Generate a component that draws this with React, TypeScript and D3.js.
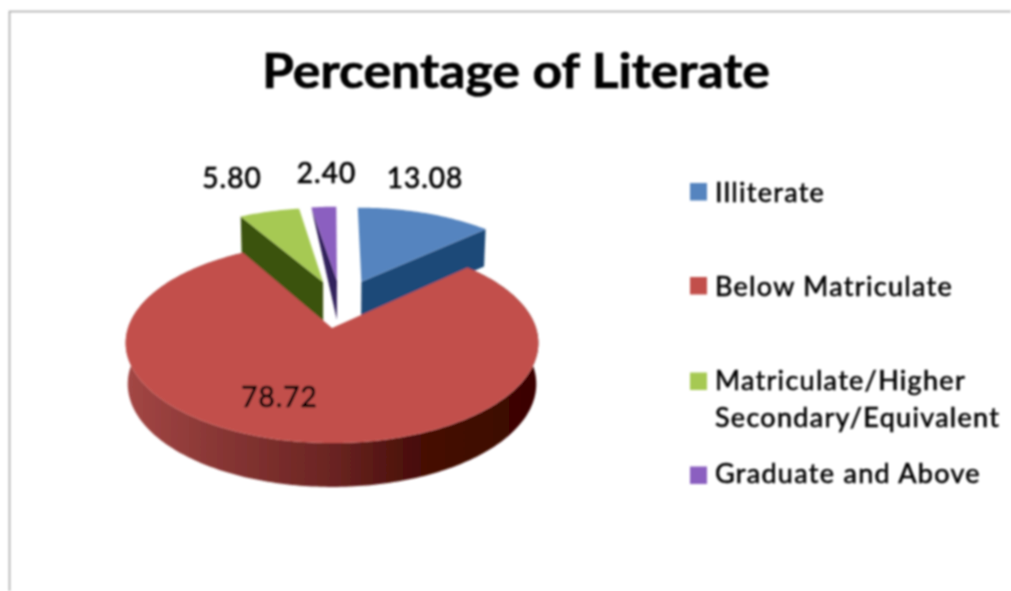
import React from "react";
import * as d3 from "d3";

const title = "Percentage of Literate";
const categories = ["Illiterate", "Below Matriculate", "Matriculate/Higher Secondary/Equivalent", "Graduate and Above"];
const values = [13.08, 78.72, 5.8, 2.4];
const valueLabels = ["13.08", "78.72", "5.80", "2.40"];
const legendLines = [["Illiterate"], ["Below Matriculate"], ["Matriculate/Higher", "Secondary/Equivalent"], ["Graduate and Above"]];

const topColors = ["#5484bf", "#c2504c", "#a6c952", "#8b5fc0"];
const sideColors = ["#1f4a78", "#8a3836", "#3a5208", "#33205c"];
const explode: [number, number][] = [[0.155, 0.51], [0, 0], [-0.047, 0.506], [0.026, 0.525]];
const labelPos: [number, number][] = [[425, 188], [279.5, 407], [232, 188], [326.5, 183]];
const legendY = [192, 286, 381.5, 475.5];
const lineBase = [[202], [296], [390, 427], [483]];

const W = 1011, H = 591;
const cx = 332, y0 = 328, RX = 204, RY = 97.75, PERSP = 0.15, DEPTH = 40.5, SHRINK = 0.99;

type P = [number, number];
const project = (X: number, Z: number, bottom = false): P => {
  const w = 1 + PERSP * Z;
  const x = RX * X / w;
  const y = y0 - RY * Z / w;
  return bottom ? [cx + x * SHRINK, y + DEPTH / Math.sqrt(w)] : [cx + x, y];
};

const pie = d3.pie<number>().sort(null).value((d) => d);
const arcs = pie(values);
const line = d3.line();
const deg = Math.PI / 180;

function rim(a: number, b: number, off: [number, number], bottom = false): P[] {
  const n = Math.max(2, Math.ceil((b - a) / deg));
  return d3.range(n + 1).map((i) => {
    const t = a + ((b - a) * i) / n;
    return project(off[0] + Math.sin(t), off[1] + Math.cos(t), bottom);
  });
}

export default function App() {
  const order = [3, 0, 2, 1];
  return (
    <svg width={W} height={H} viewBox={`0 0 ${W} ${H}`} style={{ position: "absolute", left: 0, top: 0, background: "#fff" }} fontFamily="Lato, Carlito, sans-serif">
      <defs>
        <filter id="soft" x="-5%" y="-5%" width="110%" height="110%">
          <feGaussianBlur stdDeviation="0.8" />
        </filter>
        <linearGradient id="redSide" gradientUnits="userSpaceOnUse" x1="130" x2="537" y1="0" y2="0">
          <stop offset="0" stopColor="#a24644" />
          <stop offset="0.25" stopColor="#843432" />
          <stop offset="0.5" stopColor="#6a2422" />
          <stop offset="0.72" stopColor="#460c06" />
          <stop offset="1" stopColor="#3a0500" />
        </linearGradient>
      </defs>
      <g filter="url(#soft)">
        <path d={`M9.5 ${H} V11.5 H${W}`} fill="none" stroke="#a8a8a8" strokeWidth={1.6} />
        <text x={516} y={88} textAnchor="middle" fontSize={48} fontWeight={700} fill="#000" stroke="#000" strokeWidth={0.6} textLength={508} lengthAdjust="spacingAndGlyphs">{title}</text>

        {order.map((i) => {
          const s = arcs[i];
          const off = explode[i];
          const apex = project(off[0], off[1]);
          const apexB = project(off[0], off[1], true);
          if (i === 1) {
            const top = rim(s.startAngle, s.endAngle, off);
            const bot = rim(s.startAngle, s.endAngle, off, true);
            return (
              <g key={i}>
                <path d={line([...top, ...bot.reverse()]) + "Z"} fill="url(#redSide)" />
                <path d={line([apex, ...top]) + "Z"} fill={topColors[i]} />
              </g>
            );
          }
          const top = rim(s.startAngle, s.endAngle, off);
          const edgeTop = i === 0 ? top[top.length - 1] : top[0];
          const edgeBot = project(
            off[0] + Math.sin(i === 0 ? s.endAngle : s.startAngle),
            off[1] + Math.cos(i === 0 ? s.endAngle : s.startAngle),
            true
          );
          const side: P[] = i === 3 ? [apex, apexB, edgeTop] : [apex, apexB, edgeBot, edgeTop];
          return (
            <g key={i}>
              <path d={line(side) + "Z"} fill={sideColors[i]} />
              <path d={line([apex, ...top]) + "Z"} fill={topColors[i]} />
            </g>
          );
        })}

        {valueLabels.map((t, i) => (
          <text key={t} x={labelPos[i][0]} y={labelPos[i][1]} textAnchor="middle" fontSize={28} fill="#000" stroke="#000" strokeWidth={0.7} letterSpacing={1}>{t}</text>
        ))}

        {categories.map((c, i) => (
          <g key={c}>
            <rect x={690} y={legendY[i] - 9} width={17} height={17.5} fill={topColors[i]} />
            {legendLines[i].map((l, j) => (
              <text key={l} x={715} y={lineBase[i][j]} fontSize={27} fill="#000" stroke="#000" strokeWidth={0.6} letterSpacing={1.3}>{l}</text>
            ))}
          </g>
        ))}
      </g>
    </svg>
  );
}
